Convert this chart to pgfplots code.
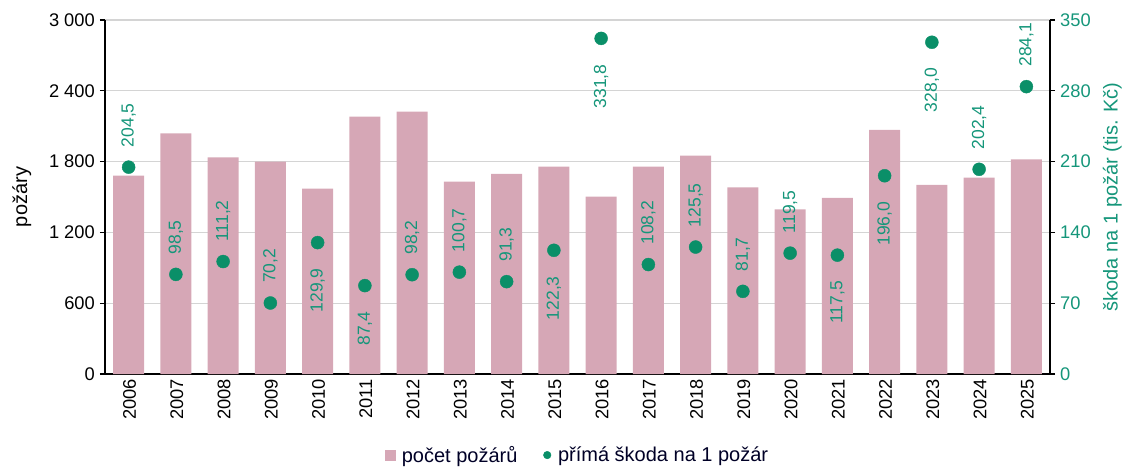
\documentclass[border=0pt]{standalone}
\usepackage{pgfplots}
\pgfplotsset{compat=1.18}
\usepackage{fontspec}
\setmainfont{Liberation Sans}
\definecolor{barpink}{HTML}{D6A7B6}
\definecolor{dotgreen}{HTML}{0A8F68}
\definecolor{txtgreen}{HTML}{15967A}
\definecolor{gridgray}{HTML}{D4D4D4}
\newcommand{\fs}{\fontsize{17.5}{20}\selectfont}
\newcommand{\ft}{\fontsize{18.3}{21}\selectfont}
\newcommand{\fl}{\fontsize{20}{23}\selectfont}
\begin{document}
\begin{tikzpicture}
\pgfplotsset{
  every axis/.append style={
    scale only axis, width=945pt, height=354pt,
    xmin=-0.5, xmax=19.5,
    /pgf/number format/assume math mode=true,
    tick label style={font=\ft},
    label style={font=\fl},
  }
}
\begin{axis}[
  name=ax,
  ymin=0, ymax=3000,
  ytick={0,600,...,3000},
  axis y line*=left, axis x line*=bottom,
  axis line style={line width=1.3pt, black, -},
  ymajorgrids, grid style={gridgray, line width=1.2pt},
  major tick length=5pt,
  y tick style={line width=1.2pt, black},
  tick align=outside,
  x tick style={draw=none},
  xtick={0,...,19},
  xticklabels={2006,2007,2008,2009,2010,2011,2012,2013,2014,2015,2016,2017,2018,2019,2020,2021,2022,2023,2024,2025},
  x tick label style={rotate=90, anchor=east, inner sep=0pt, yshift=-1pt},
  xtick pos=bottom,
  yticklabel style={/pgf/number format/1000 sep={\ }, inner sep=0pt, xshift=-5pt, color=black},
  ylabel={požáry}, ylabel style={at={(-0.088,0.5)}, anchor=center, color=black},
]
\addplot[ybar, bar width=31pt, fill=barpink, draw=none, bar shift=0pt] table {
x y
0 1681
1 2040
2 1836
3 1799
4 1570
5 2181
6 2223
7 1630
8 1695
9 1757
10 1503
11 1757
12 1850
13 1582
14 1396
15 1492
16 2068
17 1602
18 1664
19 1819
};
\end{axis}
\begin{axis}[
  ymin=0, ymax=350,
  ytick={0,70,...,350},
  axis y line*=right, axis x line=none,
  axis line style={line width=1.3pt, black, -},
  major tick length=5pt,
  y tick style={line width=1.2pt, black},
  tick align=outside,
  yticklabel style={inner sep=0pt, xshift=5pt, color=txtgreen},
  ylabel={škoda na 1 požár (tis. Kč)},
  ylabel style={at={(1.066,0.5)}, anchor=center, color=txtgreen},
  legend style={at={(0.5,-0.229)}, anchor=center, draw=none, fill=none, font=\fl, text=black!85!blue,
    legend columns=2,
    /tikz/every odd column/.append style={column sep=5pt},
    /tikz/every even column/.append style={column sep=24pt}},
  legend cell align=left,
]
\addlegendimage{only marks, mark=square*, mark size=5pt, color=barpink}
\addlegendentry{počet požárů}
\addlegendimage{only marks, mark=*, mark size=3.8pt, color=dotgreen}
\addlegendentry{přímá škoda na 1 požár}
\addplot[only marks, forget plot, mark=*, mark size=6.5pt, color=dotgreen] table {
x y
0 204.5
1 98.5
2 111.2
3 70.2
4 129.9
5 87.4
6 98.2
7 100.7
8 91.3
9 122.3
10 331.8
11 108.2
12 125.5
13 81.7
14 119.5
15 117.5
16 196.0
17 328.0
18 202.4
19 284.1
};
\addplot[draw=none, forget plot,
  nodes near coords={\pgfmathprintnumber[use comma,fixed,fixed zerofill,precision=1]{\pgfplotspointmeta}},
  every node near coord/.append style={rotate=90, anchor=west, font=\fs, color=txtgreen, inner sep=0pt, outer xsep=20pt}] table {
x y
0 204.5
1 98.5
2 111.2
3 70.2
6 98.2
7 100.7
8 91.3
11 108.2
12 125.5
13 81.7
14 119.5
18 202.4
19 284.1
};
\addplot[draw=none, forget plot,
  nodes near coords={\pgfmathprintnumber[use comma,fixed,fixed zerofill,precision=1]{\pgfplotspointmeta}},
  every node near coord/.append style={rotate=90, anchor=east, font=\fs, color=txtgreen, inner sep=0pt, outer xsep=26pt}] table {
x y
4 129.9
5 87.4
9 122.3
10 331.8
15 117.5
16 196.0
17 328.0
};
\end{axis}
\pgfresetboundingbox
\path[use as bounding box] ([xshift=-105pt,yshift=-92pt]ax.south west) rectangle ([xshift=74pt,yshift=20pt]ax.north east);
\end{tikzpicture}
\end{document}
